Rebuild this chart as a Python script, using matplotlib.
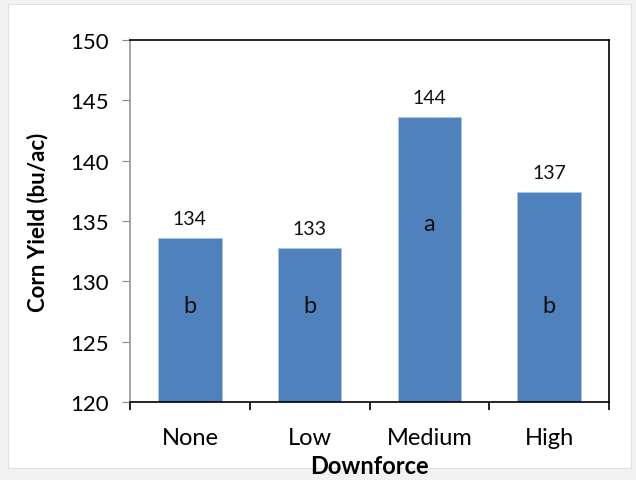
import matplotlib
matplotlib.use("Agg")
import matplotlib.pyplot as plt
from matplotlib.patches import Rectangle

plt.rcParams['font.family'] = ['Lato', 'DejaVu Sans']

categories = ['None', 'Low', 'Medium', 'High']
yields = [133.6, 132.8, 143.6, 137.4]
value_labels = ['134', '133', '144', '137']
letters = ['b', 'b', 'a', 'b']
letter_y = [128.0, 128.0, 134.8, 128.0]

fig = plt.figure(figsize=(6.36, 4.81), dpi=100)
fig.patch.set_facecolor('#f2f2f2')
# white slide area behind the chart
fig.add_artist(Rectangle((0.012, 0.025), 0.98, 0.965, transform=fig.transFigure,
                         facecolor='white', edgecolor='#e0e0e0', lw=0.8, zorder=-5))

ax = fig.add_axes([130 / 636, 1 - 403 / 481, (609 - 130) / 636, (403 - 41) / 481])
ax.set_zorder(2)
x = range(len(categories))
ax.bar(x, yields, width=0.53, color='#4f81bd', edgecolor='#a9c4e6', linewidth=0.6, zorder=2)

for i, (v, lab) in enumerate(zip(yields, value_labels)):
    ax.text(i, v + 0.9, lab, ha='center', va='bottom', fontsize=14, color='#111111')
for i, (ly, let) in enumerate(zip(letter_y, letters)):
    ax.text(i, ly, let, ha='center', va='center', fontsize=17, color='#111111')

ax.set_ylim(120, 150)
ax.set_xlim(-0.5, 3.5)
ax.set_yticks(range(120, 151, 5))
ax.set_xticks(x)
ax.set_xticklabels(categories)
ax.tick_params(axis='y', labelsize=16, length=6, color='#888888', pad=9)
ax.tick_params(axis='x', length=0, labelsize=17, pad=18)
# category boundary ticks
ax.set_xticks([-0.5, 0.5, 1.5, 2.5, 3.5], minor=True)
ax.tick_params(axis='x', which='minor', length=6, width=1.2, color='black', direction='out')

for s in ['top', 'right', 'bottom']:
    ax.spines[s].set_color('black')
    ax.spines[s].set_linewidth(1.2)
ax.spines['left'].set_color('#999999')
ax.spines['left'].set_linewidth(1.2)

ax.set_ylabel('Corn Yield (bu/ac)', fontsize=16, fontweight='bold', labelpad=16)
ax.set_xlabel('Downforce', fontsize=17, fontweight='bold', labelpad=4)

fig.savefig('out.png', dpi=100)
